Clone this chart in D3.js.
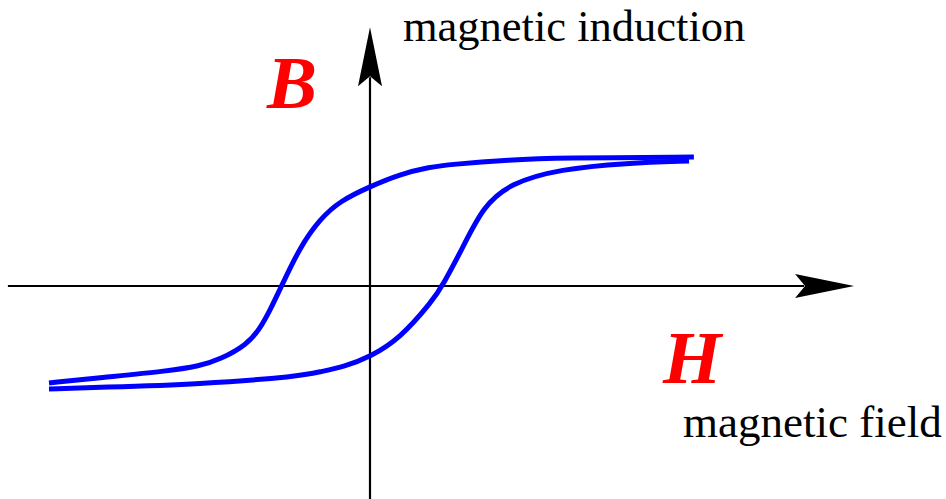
<!DOCTYPE html>
<html>
<head>
<meta charset="utf-8">
<script src="https://cdn.jsdelivr.net/npm/d3@7"></script>
<style>
  body { margin: 0; background: #fff; }
</style>
</head>
<body>
<div id="graph"></div>
<script>
// descending branch, from positive saturation back to negative [H, B]
var upperBranch = [
  [1.009, 0.992], [0.592, 0.985], [0.436, 0.970], [0.249, 0.935], [0.187, 0.915],
  [0.093, 0.860], [0, 0.765], [-0.093, 0.655], [-0.156, 0.515], [-0.218, 0.300],
  [-0.274, 0.008], [-0.312, -0.190], [-0.343, -0.330], [-0.383, -0.450],
  [-0.467, -0.565], [-0.530, -0.615], [-0.632, -0.655], [-0.841, -0.705], [-1.0, -0.746]
]
// ascending branch, from negative saturation up to positive
var lowerBranch = [
  [-1.0, -0.792], [-0.841, -0.780], [-0.530, -0.755], [-0.218, -0.695], [-0.156, -0.660],
  [-0.080, -0.620], [0, -0.545], [0.093, -0.405], [0.196, -0.110], [0.227, 0.008], [0.290, 0.300],
  [0.352, 0.610], [0.436, 0.790], [0.592, 0.900], [0.8, 0.946], [0.994, 0.962]
]
var hExtent = [-1.128, 1.508]
var bExtent = [-1.65, 1.99]
var labels = {B: 'B', H: 'H', induction: 'magnetic induction', field: 'magnetic field'}

var width = 946, height = 499
var serif = '"Liberation Serif", "Times New Roman", Times, "DejaVu Serif", serif'

var svg = d3.select('#graph').append('svg')
  .attr('width', width).attr('height', height)

var x = d3.scaleLinear().domain([-1, 1]).range([49, 691])
var y = d3.scaleLinear().domain([-1, 1]).range([416, 156])

var axes = svg.append('g').attr('stroke', '#000').attr('stroke-width', 2.2)

// H axis
axes.append('line')
  .attr('x1', x(hExtent[0])).attr('x2', x(hExtent[1]) - 50)
  .attr('y1', y(0)).attr('y2', y(0))
// B axis
axes.append('line')
  .attr('x1', x(0)).attr('x2', x(0))
  .attr('y1', y(bExtent[0])).attr('y2', y(bExtent[1]) + 50)

// arrow head: tip, wing, notch, wing
var arrow = 'M0,0 L-59,-12 L-49,0 L-59,12 Z'
svg.append('path').attr('d', arrow)
  .attr('transform', `translate(${x(hExtent[1])},${y(0)})`)
svg.append('path').attr('d', arrow)
  .attr('transform', `translate(${x(0)},${y(bExtent[1])}) rotate(-90)`)

var line = d3.line()
  .x(d => x(d[0]))
  .y(d => y(d[1]))
  .curve(d3.curveBasis)

svg.selectAll('path.branch')
  .data([upperBranch, lowerBranch])
  .join('path')
  .attr('class', 'branch')
  .attr('d', d => line(d.slice().sort((a, b) => a[0] - b[0])))
  .attr('fill', 'none')
  .attr('stroke', '#0000ff')
  .attr('stroke-width', 5)

svg.append('text')
  .text(labels.induction)
  .attr('x', x(0) + 33).attr('y', 41)
  .attr('font-family', serif)
  .attr('font-size', 44.5)

svg.append('text')
  .text(labels.field)
  .attr('x', 683).attr('y', 437)
  .attr('font-family', serif)
  .attr('font-size', 45)

svg.selectAll('text.sym')
  .data([[labels.B, 267, 108], [labels.H, 663, 383]])
  .join('text')
  .attr('class', 'sym')
  .text(d => d[0])
  .attr('x', d => d[1]).attr('y', d => d[2])
  .attr('font-family', serif)
  .attr('font-size', 75)
  .attr('font-weight', 'bold')
  .attr('font-style', 'italic')
  .attr('fill', '#ff0000')
</script>
</body>
</html>
